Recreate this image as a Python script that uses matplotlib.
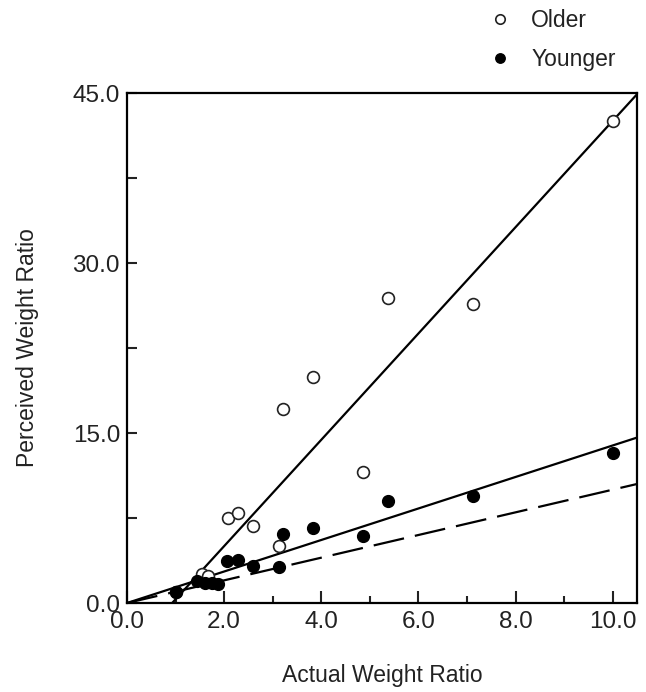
import matplotlib
matplotlib.use("Agg")
import matplotlib.pyplot as plt
from matplotlib.ticker import MultipleLocator, FormatStrFormatter

plt.rcParams['font.family'] = ['Liberation Sans', 'DejaVu Sans']

# Data
older_x = [1.0, 1.54, 1.67, 2.08, 2.28, 2.6, 3.13, 3.21, 3.83, 4.86, 5.37, 7.12, 10.0]
older_y = [1.0, 2.6, 2.4, 7.5, 7.9, 6.8, 5.0, 17.1, 19.9, 11.6, 26.9, 26.4, 42.5]

younger_x = [1.0, 1.44, 1.6, 1.75, 1.87, 2.06, 2.28, 2.6, 3.13, 3.21, 3.83, 4.86, 5.37, 7.12, 10.0]
younger_y = [1.0, 1.9, 1.8, 1.8, 1.7, 3.7, 3.8, 3.3, 3.2, 6.1, 6.6, 5.9, 9.0, 9.4, 13.2]

# fitted lines (slope, intercept) and x range
older_fit = (4.69, -4.36)
older_fit_x = [0.93, 10.5]
younger_fit = (1.39, 0.0)
younger_fit_x = [0.0, 10.5]
identity_x = [0.0, 10.5]

fig = plt.figure(figsize=(6.46, 6.92), dpi=100)
ax = fig.add_axes([0.1966, 0.1286, 0.7894, 0.737])

# lines
ax.plot(older_fit_x, [older_fit[0] * x + older_fit[1] for x in older_fit_x],
        color='black', lw=1.6, zorder=2)
ax.plot(younger_fit_x, [younger_fit[0] * x + younger_fit[1] for x in younger_fit_x],
        color='black', lw=1.6, zorder=2)
ax.plot(identity_x, identity_x, color='black', lw=1.6, dashes=(14, 5), zorder=2)

# points
h_old, = ax.plot(older_x, older_y, 'o', ms=8.5, mfc='white', mec='#222222', mew=1.2,
                 ls='none', zorder=3, label='Older')
h_young, = ax.plot(younger_x, younger_y, 'o', ms=8.5, mfc='black', mec='black',
                   ls='none', zorder=4, label='Younger')

ax.set_xlim(0, 10.5)
ax.set_ylim(0, 45)
ax.xaxis.set_major_locator(MultipleLocator(2.0))
ax.xaxis.set_minor_locator(MultipleLocator(1.0))
ax.yaxis.set_major_locator(MultipleLocator(15.0))
ax.yaxis.set_minor_locator(MultipleLocator(7.5))
ax.xaxis.set_major_formatter(FormatStrFormatter('%.1f'))
ax.yaxis.set_major_formatter(FormatStrFormatter('%.1f'))

ax.tick_params(which='both', direction='in', width=1.5, labelsize=17.5,
               top=False, right=False, colors='#222222')
ax.tick_params(axis='x', which='major', length=9, pad=6)
ax.tick_params(axis='x', which='minor', length=5)
ax.tick_params(axis='y', which='major', length=7, pad=5)
ax.tick_params(axis='y', which='minor', length=7)
for s in ax.spines.values():
    s.set_linewidth(1.6)

ax.set_xlabel('Actual Weight Ratio', fontsize=16.5, labelpad=22, color='#222222')
ax.set_ylabel('Perceived Weight Ratio', fontsize=16.5, labelpad=24, color='#222222')

fig.legend(handles=[h_old, h_young], loc='upper left',
           bbox_to_anchor=(0.716, 1.017), frameon=False, fontsize=16.5,
           markerscale=0.8, handletextpad=0.6, labelspacing=0.7,
           handlelength=1.5, labelcolor='#222222')

fig.savefig('out.png', dpi=100)
